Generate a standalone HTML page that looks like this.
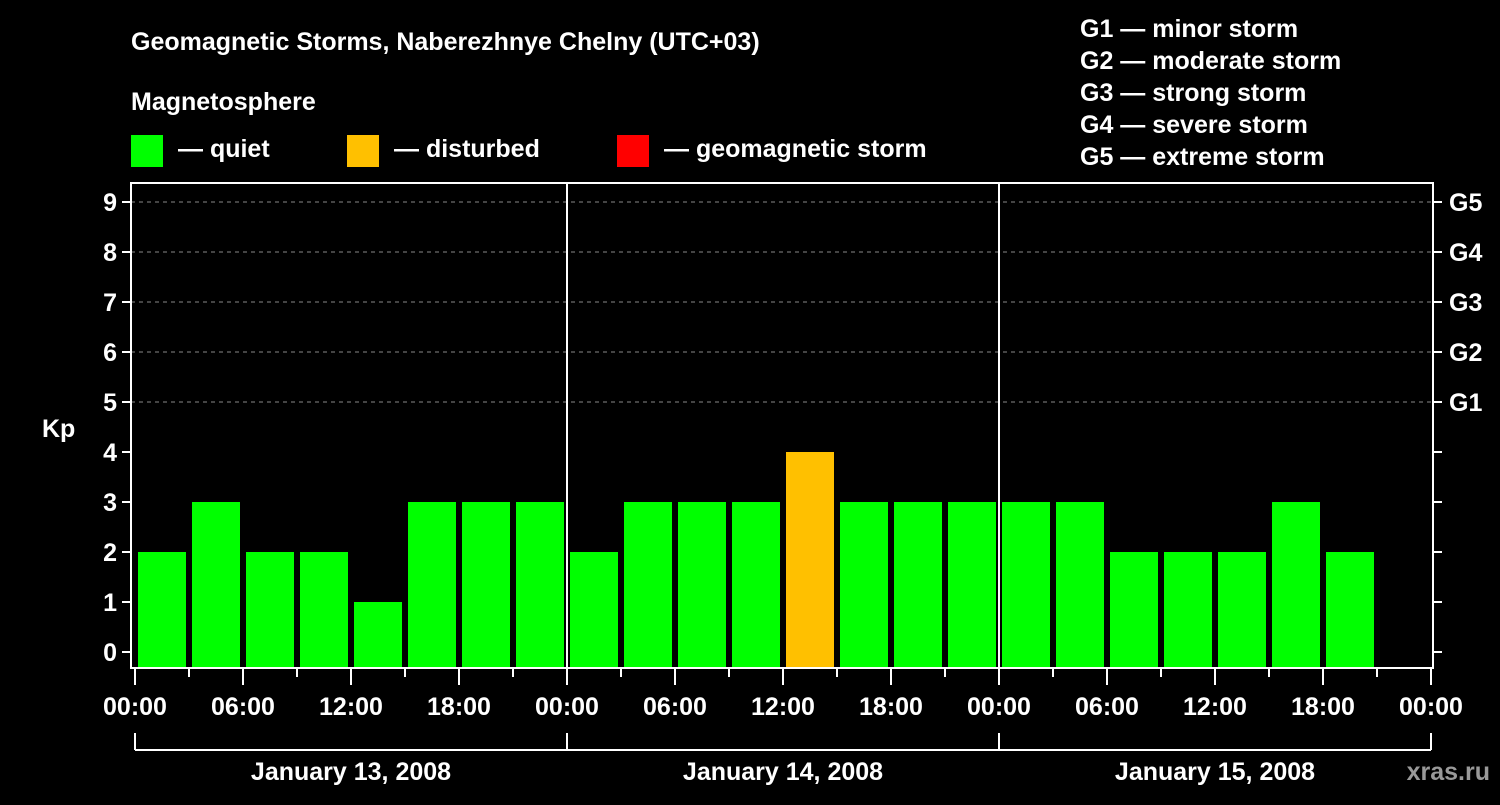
<!DOCTYPE html>
<html><head><meta charset="utf-8"><style>
body{margin:0;background:#000;width:1500px;height:800px;overflow:hidden;font-family:"Liberation Sans",sans-serif}
svg text{font-family:"Liberation Sans",sans-serif;font-weight:bold;fill:#fff}
</style></head><body>
<svg id="c" width="1500" height="800">
<text x="131" y="50" font-size="25">Geomagnetic Storms, Naberezhnye Chelny (UTC+03)</text>
<text x="131" y="110" font-size="25">Magnetosphere</text>
<rect x="131" y="135" width="32" height="32" fill="#00ff00"/>
<text x="178" y="157" font-size="25">— quiet</text>
<rect x="347" y="135" width="32" height="32" fill="#ffc000"/>
<text x="394" y="157" font-size="25">— disturbed</text>
<rect x="617" y="135" width="32" height="32" fill="#ff0000"/>
<text x="664" y="157" font-size="25">— geomagnetic storm</text>
<g font-size="25">
<text x="1080" y="37">G1 — minor storm</text>
<text x="1080" y="69">G2 — moderate storm</text>
<text x="1080" y="101">G3 — strong storm</text>
<text x="1080" y="133">G4 — severe storm</text>
<text x="1080" y="165">G5 — extreme storm</text>
</g>
<text x="42" y="437" font-size="25">Kp</text>
<text x="1490" y="780" font-size="25" text-anchor="end" fill="#999" style="fill:#999">xras.ru</text>
<g id="plot"></g>
</svg>
<script>
const kpValues=[2,3,2,2,1,3,3,3, 2,3,3,3,4,3,3,3, 3,3,2,2,2,3,2];
const dayLabels=["January 13, 2008","January 14, 2008","January 15, 2008"];
const timeLabels=["00:00","06:00","12:00","18:00"];
const gLabels=["G1","G2","G3","G4","G5"];
const kpTicks=[0,1,2,3,4,5,6,7,8,9];
const NS="http://www.w3.org/2000/svg";
const g=document.getElementById('plot');
const L=131,R=1433,T=183,B=668,X0=135,SLOT=54;
const y=v=>652-50*v;
const xs=i=>X0+SLOT*i;
function mk(t,a){const e=document.createElementNS(NS,t);for(const k in a)e.setAttribute(k,a[k]);g.appendChild(e);return e;}
// grid
for(let v=5;v<=9;v++){const e=mk('line',{x1:L,x2:R,y1:y(v),y2:y(v),stroke:'#888','stroke-dasharray':'4,4','stroke-width':1});

}
// bars
kpValues.forEach((v,i)=>{const col=v>=5?'#ff0000':(v>=4?'#ffc000':'#00ff00');
const e=mk('rect',{x:xs(i)+3,y:y(v),width:48,height:B-y(v),fill:col});

});
// day separators
for(let d=1;d<3;d++){const e=mk('line',{x1:xs(8*d),x2:xs(8*d),y1:T,y2:B,stroke:'#fff','stroke-width':2});

}
// frame
const f=mk('rect',{x:L,y:T,width:R-L,height:B-T,fill:'none',stroke:'#fff','stroke-width':2});


// y ticks
kpTicks.forEach(v=>{mk('line',{x1:122,x2:L,y1:y(v),y2:y(v),stroke:'#fff','stroke-width':2});
mk('line',{x1:R,x2:1442,y1:y(v),y2:y(v),stroke:'#fff','stroke-width':2});
const t=mk('text',{x:117,y:y(v)+9,'font-size':25,'text-anchor':'end'});t.textContent=v;

});
gLabels.forEach((s,i)=>{const t=mk('text',{x:1449,y:y(5+i)+9,'font-size':25});t.textContent=s;

});
// x ticks
for(let i=0;i<=24;i++){const x=xs(i);const major=i%2===0;
mk('line',{x1:x,x2:x,y1:B,y2:major?685:677,stroke:'#fff','stroke-width':2});
if(major){const t=mk('text',{x:x,y:715,'font-size':25,'text-anchor':'middle'});t.textContent=timeLabels[(i/2)%4];

}}
// day brackets
mk('line',{x1:xs(0),x2:xs(24),y1:750,y2:750,stroke:'#fff','stroke-width':2});
for(let d=0;d<=3;d++)mk('line',{x1:xs(8*d),x2:xs(8*d),y1:733,y2:750,stroke:'#fff','stroke-width':2});
dayLabels.forEach((s,d)=>{const t=mk('text',{x:xs(8*d+4),y:780,'font-size':25,'text-anchor':'middle'});t.textContent=s;

});
</script>
</body></html>
